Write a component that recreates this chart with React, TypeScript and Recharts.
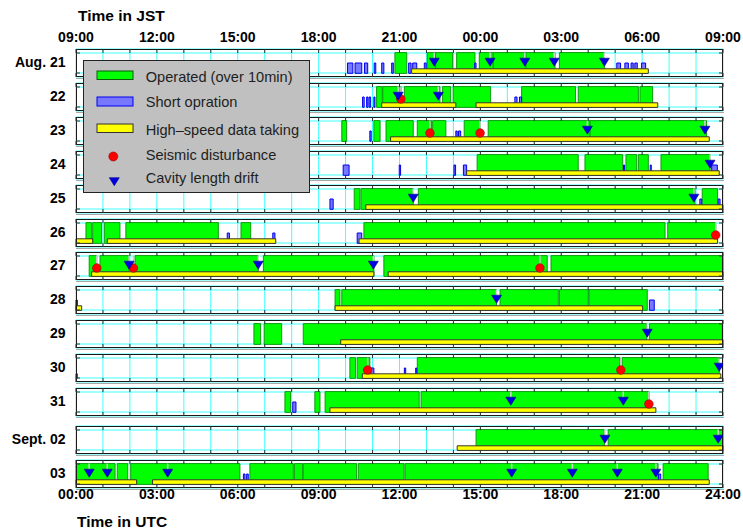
import React from "react";
import {
  ComposedChart,
  XAxis,
  YAxis,
  CartesianGrid,
  ReferenceArea,
  Scatter,
} from "recharts";

const days = ["Aug. 21", "22", "23", "24", "25", "26", "27", "28", "29", "30", "31", "Sept. 02", "03"];

// all times are hours in UTC, one list per day
const operated = [
  [[11.83, 12.27], [13.03, 13.34], [13.34, 13.97], [14.12, 14.8], [14.96, 15.48], [15.48, 16.69], [16.69, 17.77], [17.93, 19.6]],
  [[11.15, 11.36], [11.38, 12.06], [12.18, 13.5], [13.6, 13.9], [13.99, 15.38], [16.53, 18.53], [18.63, 20.86], [20.92, 21.39]],
  [[9.86, 10.04], [11.05, 11.28], [11.5, 12.51], [12.66, 13.19], [13.23, 13.72], [14.4, 14.99], [15.29, 19.07], [19.07, 23.39]],
  [[14.88, 18.63], [18.88, 20.28], [20.4, 20.8], [20.86, 21.23], [21.7, 23.52]],
  [[10.32, 10.53], [10.57, 12.51], [12.7, 22.96], [23.23, 23.8]],
  [[0.37, 0.58], [0.62, 0.95], [1.05, 1.63], [1.85, 5.28], [6.12, 6.48], [10.68, 21.85], [21.95, 23.73]],
  [[0.49, 0.77], [0.89, 1.97], [2.19, 6.76], [6.95, 11.05], [11.42, 17.48], [17.62, 24]],
  [[9.61, 9.79], [9.86, 15.6], [15.73, 17.89], [17.93, 19.0], [19.03, 21.19]],
  [[6.6, 6.85], [6.98, 7.63], [8.43, 21.17], [21.27, 23.97]],
  [[10.16, 10.37], [10.43, 10.9], [12.66, 20.18], [20.26, 23.86]],
  [[7.75, 7.96], [8.86, 9.05], [9.24, 12.73], [12.8, 21.26]],
  [[14.84, 19.6], [19.74, 24]],
  [[0, 1.45], [1.53, 1.92], [2.03, 6.08], [6.45, 8.06], [8.1, 8.41], [8.43, 10.41], [10.47, 12.17], [12.21, 21.59], [21.78, 23.45]],
];

const shortOperation = [
  [[10.07, 10.27], [10.35, 10.6], [10.7, 10.82], [11.06, 11.12], [11.34, 11.42], [11.71, 11.77], [12.34, 12.43], [12.49, 12.64], [12.92, 12.99], [14.79, 14.84], [20.06, 20.2], [20.36, 20.49], [20.59, 20.67], [20.73, 20.82], [20.98, 21.13]],
  [[10.63, 10.69], [10.78, 10.83], [10.87, 10.93], [11.05, 11.09], [16.28, 16.36], [16.45, 16.53]],
  [[10.9, 10.95], [14.09, 14.14], [14.19, 14.27]],
  [[9.91, 10.13], [11.99, 12.04], [14.02, 14.08], [14.37, 14.49], [20.31, 20.35], [21.3, 21.34], [23.58, 23.79]],
  [[9.42, 9.54], [23.14, 23.21], [23.82, 23.89]],
  [[5.61, 5.69], [7.3, 7.38], [10.43, 10.6]],
  [],
  [[0, 0.05], [21.27, 21.45]],
  [],
  [[10.93, 11.05], [12.18, 12.23], [12.6, 12.64]],
  [[8.04, 8.16]],
  [],
  [[6.21, 6.27], [6.33, 6.39], [21.61, 21.69]],
];

const highSpeed = [
  [[12.45, 21.23]],
  [[11.34, 14.09], [14.84, 21.58]],
  [[11.67, 23.49]],
  [[14.49, 23.86]],
  [[10.75, 24]],
  [[0, 0.62], [1.16, 7.41], [10.5, 23.8]],
  [[0.58, 11.05], [11.58, 24]],
  [[0, 0.21], [9.61, 21.02]],
  [[9.82, 24]],
  [[0, 0.05], [10.62, 23.92]],
  [[9.42, 21.51]],
  [[14.14, 24]],
  [[0, 2.25], [2.84, 23.49]],
];

const seismic = [
  [], [12.05], [13.13, 14.99], [], [], [23.73], [0.77, 2.13, 17.21], [], [], [10.82, 20.21], [21.25], [], [],
];

const drift = [
  [13.29, 15.36, 16.65, 17.74, 19.6],
  [11.95, 13.44],
  [18.97, 23.33],
  [23.52],
  [12.51, 22.92],
  [],
  [1.97, 6.76, 11.03],
  [15.6],
  [21.19],
  [23.86],
  [16.13, 20.3],
  [19.62, 23.82],
  [0.49, 1.16, 3.4, 16.16, 18.41, 20.08, 21.51],
];

const hourTicks = [0, 1, 2, 3, 4, 5, 6, 7, 8, 9, 10, 11, 12, 13, 14, 15, 16, 17, 18, 19, 20, 21, 22, 23, 24];
const labelEvery = 3;

const CHART_W = 743;
const M_LEFT = 76;
const M_RIGHT = 20;
const PLOT_W = CHART_W - M_LEFT - M_RIGHT;
const PANEL_H = 28;
const TICK = 4;
const GREEN_Y: [number, number] = [3.6, 24.4];
const YELLOW_Y: [number, number] = [3.6, 8.2];
const BLUE_Y: [number, number] = [3.7, 14];
const DRIFT_Y = 14.8;
const SEIS_Y = 12;

const hhmm = (h: number) => String(h).padStart(2, "0") + ":00";
const jst = (h: number) => hhmm((h + 9) % 24);

const boldText = { fontSize: 14, fontWeight: 700, fill: "#000" };
const tickStroke = "#333";

// The bottom axis is mirrored (ticks point inward). Its tick renderer also puts the
// matching tick on the top edge, and the JST / UTC labels on the first / last panel.
const hourTick = (first: boolean, last: boolean) => ({ x, y, payload }: any) => {
  const plotBottom = y + TICK;
  const plotTop = plotBottom - PANEL_H;
  const labelled = payload.value % labelEvery === 0;
  return (
    <g>
      <line x1={x} x2={x} y1={plotTop} y2={plotTop + TICK} stroke={tickStroke} />
      {first && labelled && (
        <text x={x} y={plotTop - 7} textAnchor="middle" {...boldText}>{jst(payload.value)}</text>
      )}
      {last && labelled && (
        <text x={x} y={plotBottom + 11} textAnchor="middle" {...boldText}>{hhmm(payload.value)}</text>
      )}
    </g>
  );
};

// left mirrored axis: mirror tick on the right edge, day name outside on the left
const dayTick = (label: string) => ({ x, y, payload }: any) => {
  const plotLeft = x - TICK;
  const plotRight = plotLeft + PLOT_W;
  return (
    <g>
      <line x1={plotRight - TICK} x2={plotRight} y1={y} y2={y} stroke={tickStroke} />
      {payload.value === 24 && (
        <text x={plotLeft - 10.5} y={y + 13.7} textAnchor="end" {...boldText}>{label}</text>
      )}
    </g>
  );
};

const Frame = (p: any) => (
  <g>
    <line x1={p.x} x2={p.x + p.width + 1} y1={p.y + p.height + 1.5} y2={p.y + p.height + 1.5} stroke="#a8a8a8" strokeWidth={1} />
    <rect x={p.x + 0.5} y={p.y + 0.5} width={p.width - 1} height={p.height - 1} fill="none" stroke="#1a1a1a" strokeWidth={1} />
  </g>
);

const DriftMark = ({ cx, cy }: any) => (
  <g>
    <line x1={cx} x2={cx} y1={cy - 9.6} y2={cy - 3} stroke="#d4d4d4" strokeWidth={1.5} />
    <polygon points={`${cx - 5},${cy - 4} ${cx + 5},${cy - 4} ${cx},${cy + 4}`} fill="#0000e0" stroke="#00008a" strokeWidth={0.6} />
  </g>
);

const SeismicMark = ({ cx, cy }: any) => (
  <g>
    <line x1={cx} x2={cx} y1={cy - 12.4} y2={cy - 3} stroke="#c8c8c8" strokeWidth={1.5} />
    <circle cx={cx} cy={cy} r={4.3} fill="#ff0000" stroke="#a00000" strokeWidth={0.6} />
  </g>
);

function DayPanel({ i }: { i: number }) {
  const first = i === 0;
  const last = i === days.length - 1;
  const top = Math.round(49 + i * 33.9 + (i >= 11 ? 4.5 : 0));
  const mt = first ? 26 : 2;
  const mb = last ? 24 : 3;
  const height = mt + PANEL_H + mb;

  return (
    <div style={{ position: "absolute", left: 0, top: top - mt }}>
      <ComposedChart width={CHART_W} height={height} margin={{ top: mt, right: M_RIGHT, bottom: mb, left: M_LEFT }}>
        <CartesianGrid stroke="#40ffff" strokeWidth={1} />
        <XAxis
          type="number"
          dataKey="x"
          domain={[0, 24]}
          allowDataOverflow
          ticks={hourTicks}
          interval={0}
          orientation="bottom"
          mirror
          tickSize={TICK}
          tickMargin={0}
          tick={hourTick(first, last)}
          axisLine={false}
          tickLine={{ stroke: tickStroke }}
        />
        <YAxis
          type="number"
          dataKey="y"
          domain={[0, PANEL_H]}
          allowDataOverflow
          ticks={[4, 24]}
          interval={0}
          orientation="left"
          mirror
          tickSize={TICK}
          tickMargin={0}
          tick={dayTick(days[i])}
          axisLine={false}
          tickLine={{ stroke: tickStroke }}
        />

        {operated[i].map(([a, b], k) => (
          <ReferenceArea key={`op-${k}`} x1={a} x2={b} y1={GREEN_Y[0]} y2={GREEN_Y[1]}
            fill="#00ff00" fillOpacity={1} stroke="#109a10" strokeWidth={1} />
        ))}
        {shortOperation[i].map(([a, b], k) => (
          <ReferenceArea key={`sh-${k}`} x1={a} x2={b} y1={BLUE_Y[0]} y2={BLUE_Y[1]}
            fill="#7878ff" fillOpacity={1} stroke="#0000ee" strokeWidth={1} />
        ))}
        {highSpeed[i].map(([a, b], k) => (
          <ReferenceArea key={`hs-${k}`} x1={a} x2={b} y1={YELLOW_Y[0]} y2={YELLOW_Y[1]}
            fill="#ffff00" fillOpacity={1} stroke="#333" strokeWidth={1} />
        ))}
        <ReferenceArea x1={0} x2={24} y1={0} y2={PANEL_H} shape={Frame} />

        <Scatter
          data={seismic[i].map((x) => ({ x, y: SEIS_Y }))}
          shape={SeismicMark}
          isAnimationActive={false}
        />
        <Scatter
          data={drift[i].map((x) => ({ x, y: DRIFT_Y }))}
          shape={DriftMark}
          isAnimationActive={false}
        />
      </ComposedChart>
    </div>
  );
}

function LegendBox() {
  const text = { fontSize: 14.6, fill: "#1e1e1e" };
  return (
    <g transform="translate(83,60)">
      <rect x={0.5} y={0.5} width={226} height={132} fill="#c0c0c0" stroke="#222" strokeWidth={1} />
      <rect x={14} y={11} width={36} height={8.5} fill="#00ff00" stroke="#0a5a0a" strokeWidth={1} />
      <text x={62.7} y={21.7} {...text}>Operated (over 10min)</text>
      <rect x={14} y={37} width={36} height={9} fill="#7878ff" stroke="#0000ee" strokeWidth={1} />
      <text x={62.7} y={47.3} {...text}>Short opration</text>
      <rect x={14} y={64} width={36} height={8.5} fill="#ffff00" stroke="#333" strokeWidth={1} />
      <text x={62.7} y={75} {...text}>High–speed data taking</text>
      <circle cx={30.3} cy={96.5} r={4.5} fill="#ff0000" stroke="#a00000" strokeWidth={0.6} />
      <text x={62.7} y={100} {...text}>Seismic disturbance</text>
      <polygon points="26.3,117.7 36.3,117.7 31.3,125.7" fill="#0000e0" stroke="#00008a" strokeWidth={0.6} />
      <text x={62.7} y={123.3} {...text}>Cavity length drift</text>
    </g>
  );
}

export default function App() {
  return (
    <div
      style={{
        position: "absolute",
        left: 0,
        top: 0,
        width: 743,
        height: 529,
        background: "#fff",
        overflow: "hidden",
        fontFamily: "'Liberation Sans', Arial, sans-serif",
      }}
    >
      {days.map((_, i) => (
        <DayPanel key={i} i={i} />
      ))}
      <svg width={743} height={529} style={{ position: "absolute", left: 0, top: 0, pointerEvents: "none" }}>
        <text x={78} y={20.7} fontSize={15.5} fontWeight={700} fill="#000">Time in JST</text>
        <text x={77} y={526.5} fontSize={15.5} fontWeight={700} fill="#000">Time in UTC</text>
        <LegendBox />
      </svg>
    </div>
  );
}
